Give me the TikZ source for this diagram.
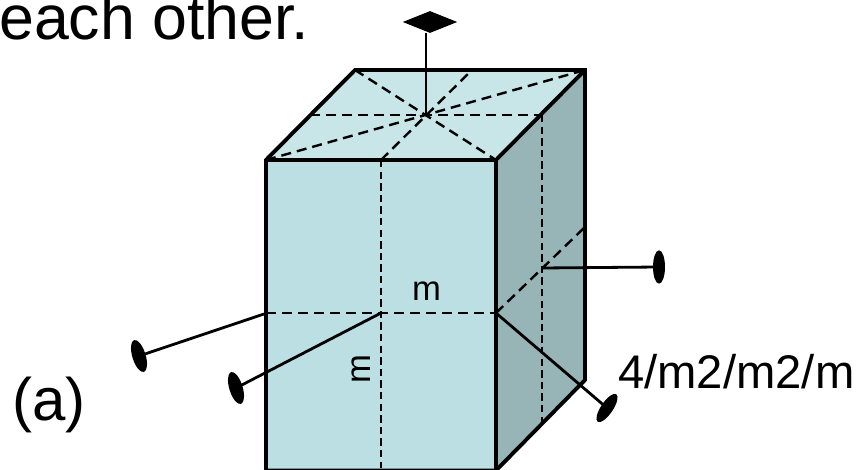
\documentclass[tikz,border=0pt]{standalone}
\usepackage{fontspec}
\setmainfont{Liberation Sans}
\usetikzlibrary{shapes.geometric}
\tikzset{
  edge/.style={draw=black,line width=2.9pt,line join=miter},
  hair/.style={draw=black,line width=1.8pt,dash pattern=on 7.5pt off 4.5pt},
  shorthair/.style={draw=black,line width=1.8pt,dash pattern=on 5.5pt off 3.2pt},
  axisline/.style={draw=black,line width=2.1pt},
  blade/.style={ellipse,fill=black,inner sep=0pt,minimum width=10pt,minimum height=25pt},
  big/.style={font=\fontsize{47}{50}\selectfont,inner sep=0pt,text=black},
  tagtext/.style={font=\fontsize{45}{50}\selectfont,inner sep=0pt,text=black},
  mid/.style={font=\fontsize{35.4}{40}\selectfont,inner sep=0pt,text=black},
  small/.style={font=\fontsize{26}{30}\selectfont,inner sep=0pt,text=black}
}
\begin{document}
\begin{tikzpicture}[x=0.75pt,y=-0.75pt]
\useasboundingbox (0,0) rectangle (861,470);
\clip (0,0) rectangle (861,470);
\coordinate (ftl) at (266,160);
\coordinate (ftr) at (496,160);
\coordinate (fbl) at (266,470.5);
\coordinate (fbr) at (496,470.5);
\coordinate (btl) at (355,70);
\coordinate (btr) at (585,70);
\coordinate (bbr) at (585,380);
\coordinate (topc) at (426,115);
\coordinate (topl) at (310,115);
\coordinate (topr) at (542,115);
\coordinate (topf) at (381,160);
\coordinate (topb) at (472,70);
\coordinate (frontl) at (266,313);
\coordinate (frontr) at (496,313);
\coordinate (frontc) at (381,313);
\coordinate (frontb) at (381,468);
\coordinate (sideb) at (542,424);
\coordinate (sider) at (585,227);
\coordinate (sidec) at (542,268);
\path[fill={rgb,255:red,187;green,223;blue,227}] (ftl)--(ftr)--(fbr)--(fbl)--cycle;
\path[fill={rgb,255:red,200;green,229;blue,232}] (ftl)--(btl)--(btr)--(ftr)--cycle;
\path[fill={rgb,255:red,151;green,180;blue,182}] (ftr)--(btr)--(bbr)--(fbr)--cycle;
\draw[hair] (topl)--(topr);
\draw[hair] (btl)--(ftr);
\draw[hair] (ftl)--(btr);
\draw[hair] (topf)--(topb);
\draw[shorthair] (topr)--(sideb);
\draw[shorthair] (topf)--(frontb);
\draw[hair] (frontl)--(frontr);
\draw[hair] (frontr)--(sider);
\draw[edge] (ftl)--(btl)--(btr)--(bbr)--(fbr)--(fbl)--cycle;
\draw[edge] (ftl)--(ftr)--(fbr);
\draw[edge] (ftr)--(btr);
\node[fill=black,diamond,aspect=2.45,inner sep=0pt,minimum width=41pt,minimum height=16.5pt] (topblade) at (430,22) {};
\node[blade,rotate=17] (leftblade) at (139,356) {};
\node[blade,rotate=17] (midblade) at (236,388) {};
\node[blade,rotate=-34,minimum width=9pt] (rightblade) at (607,408) {};
\node[blade,minimum width=9pt] (sideblade) at (659,267) {};
\coordinate (stemtop) at (426,33);
\coordinate (leftin) at (264,314);
\draw[axisline] (topc)--(stemtop);
\draw[axisline] (leftin)--(leftblade.center);
\draw[axisline] (frontc)--(midblade.center);
\draw[axisline] (frontr)--(rightblade.center);
\draw[axisline] (sidec)--(sideblade.center);
\node[big,anchor=base west] (title) at (-1,40) {each other.};
\node[tagtext,anchor=base west] (tag) at (12,421) {(a)};
\node[mid,anchor=base west] (symbol) at (618,389) {4/m2/m2/m};
\node[small,anchor=base] (mh) at (426.5,301) {m};
\node[small,anchor=base,rotate=90] (mv) at (370,369) {m};
\end{tikzpicture}
\end{document}
